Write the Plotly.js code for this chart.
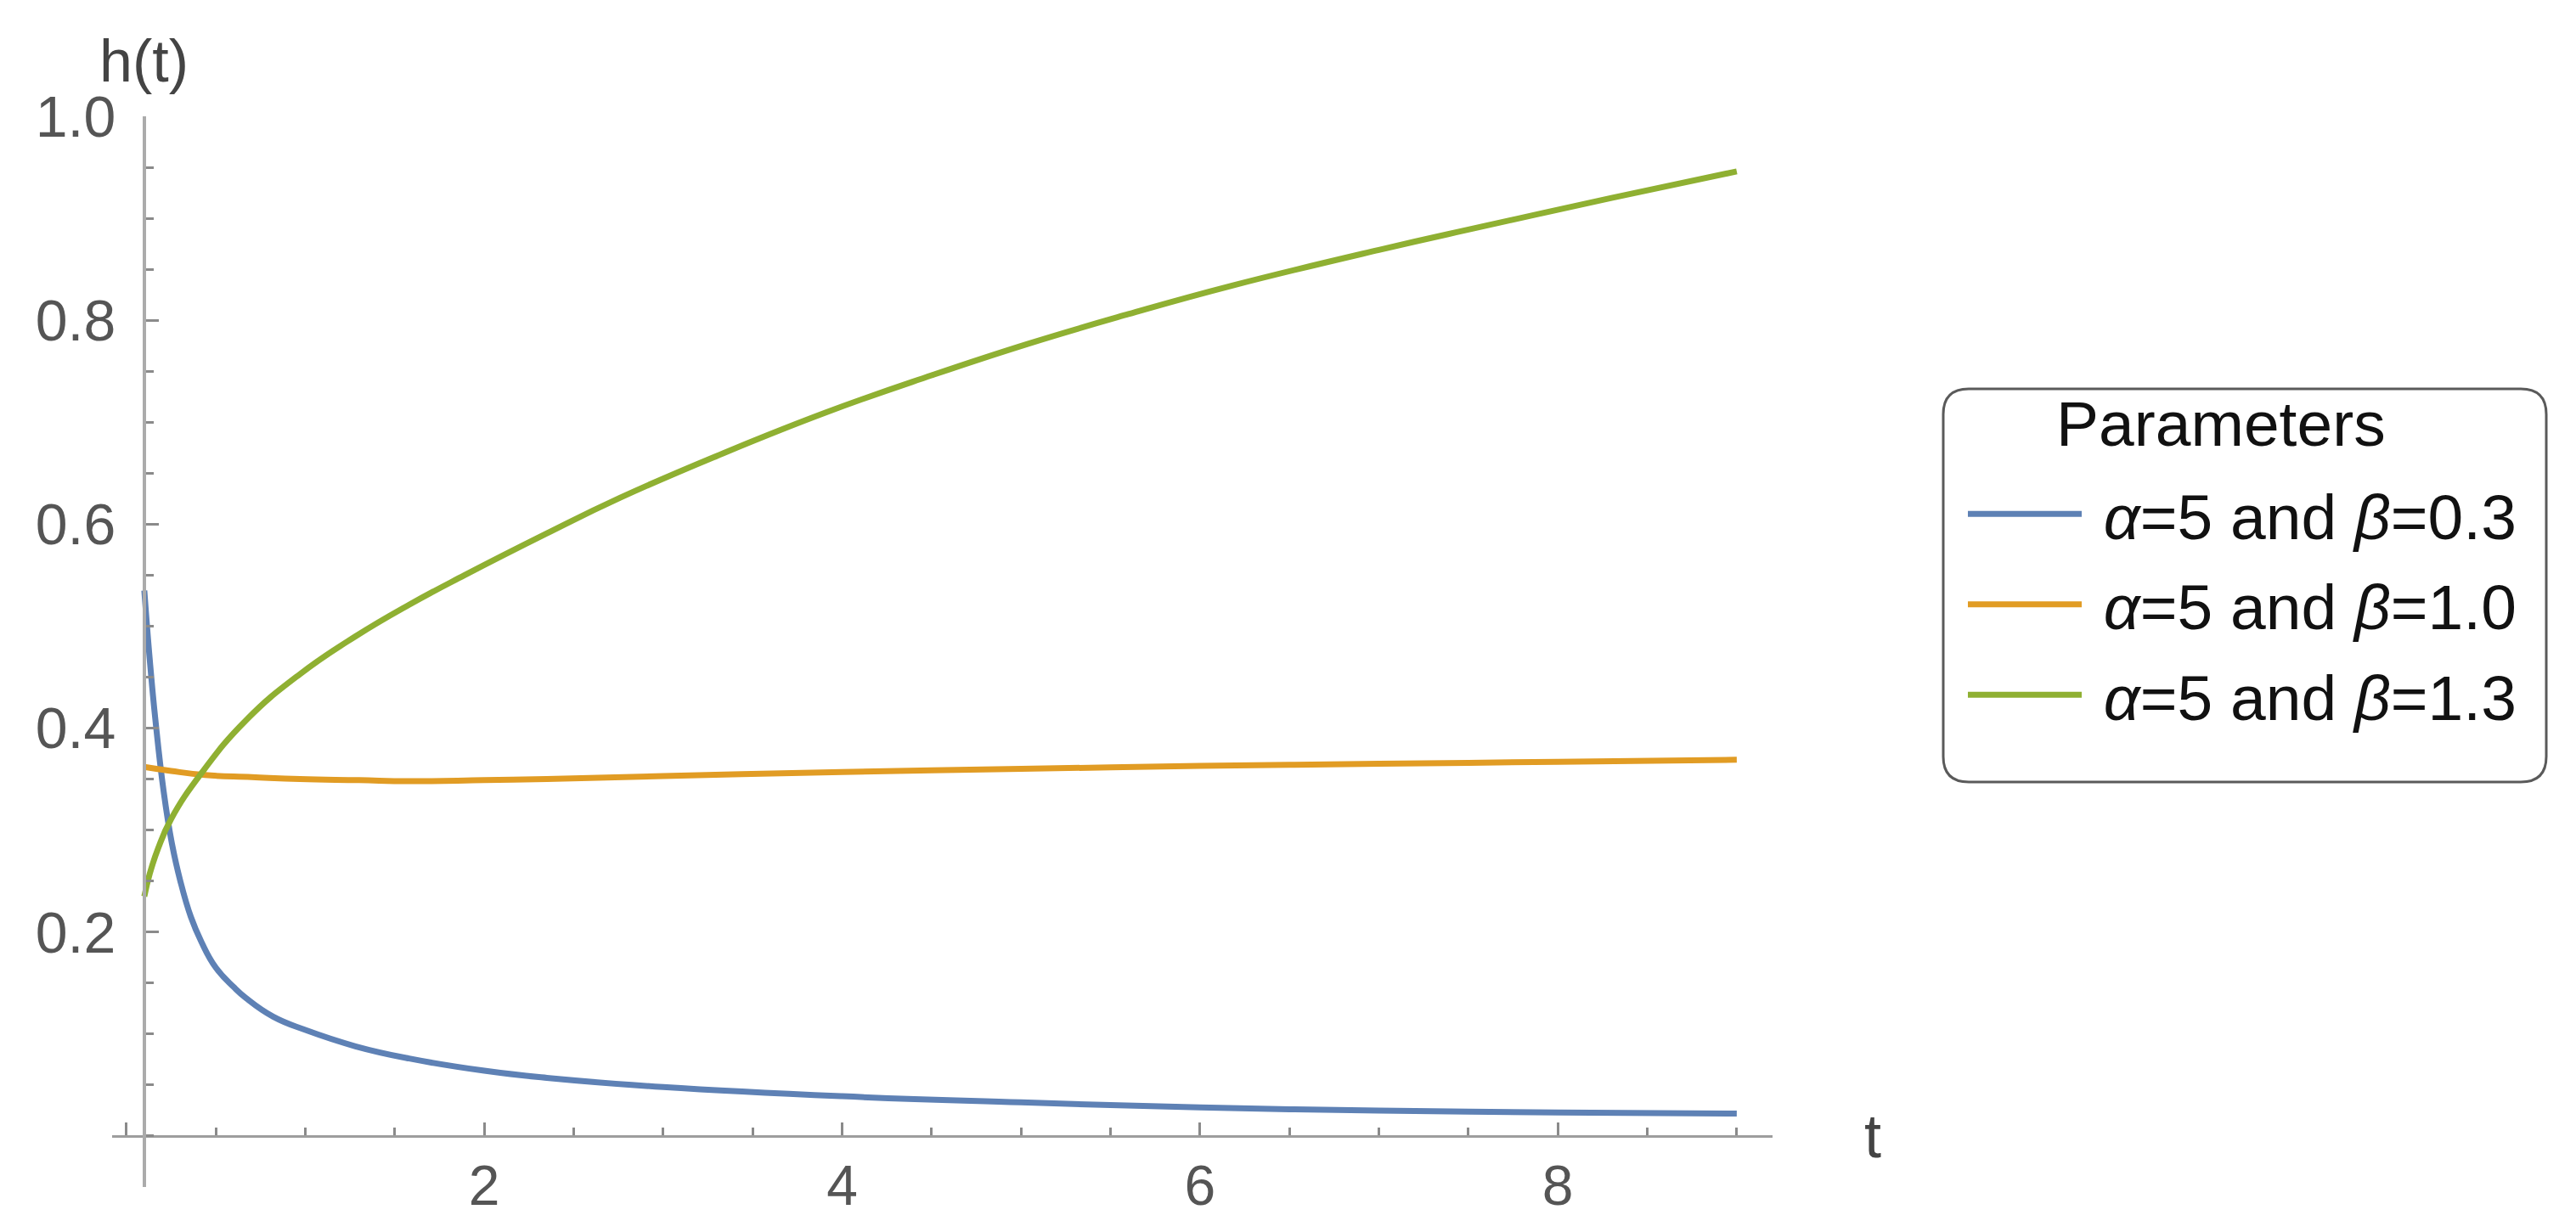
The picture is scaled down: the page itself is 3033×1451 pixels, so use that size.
<!DOCTYPE html>
<html>
<head>
<meta charset="utf-8">
<script src="https://cdn.plot.ly/plotly-3.0.1.min.js"></script>
<style>
  html, body { margin: 0; padding: 0; background: #fff; }
  #chart { width: 3033px; height: 1451px; }
</style>
</head>
<body>
<div id="chart"></div>
<script>
// h(t) curves (t from 0.1 to 9)
const blueT = [0.1, 0.13, 0.162, 0.208, 0.254, 0.3, 0.36, 0.42, 0.5, 0.6, 0.67, 0.82, 1.0, 1.28, 1.58, 2.0, 2.35, 3.0, 4.0, 5.0, 6.0, 7.0, 8.0, 9.0];
const blueH = [0.535, 0.468, 0.408, 0.338, 0.287, 0.251, 0.215, 0.190, 0.165, 0.146, 0.135, 0.117, 0.104, 0.088, 0.076, 0.064, 0.057, 0.048, 0.039, 0.033, 0.028, 0.025, 0.023, 0.022];

const orangeT = [0.1, 0.25, 0.44, 0.7, 0.97, 1.3, 1.58, 2.0, 2.35, 3.0, 4.0, 5.0, 6.0, 7.0, 8.0, 9.0];
const orangeH = [0.362, 0.358, 0.354, 0.352, 0.350, 0.349, 0.348, 0.349, 0.350, 0.353, 0.357, 0.360, 0.363, 0.365, 0.367, 0.369];

const greenT = [0.1, 0.13, 0.177, 0.25, 0.42, 0.67, 0.97, 1.28, 1.58, 1.89, 2.35, 2.76, 3.3, 3.9, 4.5, 5.04, 5.6, 6.18, 7.0, 7.58, 8.3, 9.0];
const greenH = [0.235, 0.257, 0.282, 0.311, 0.356, 0.408, 0.453, 0.490, 0.521, 0.550, 0.591, 0.626, 0.667, 0.709, 0.746, 0.777, 0.806, 0.834, 0.869, 0.892, 0.920, 0.946];

const seriesNames = [
  "<i>α</i>=5 and <i>β</i>=0.3",
  "<i>α</i>=5 and <i>β</i>=1.0",
  "<i>α</i>=5 and <i>β</i>=1.3",
];
const seriesColors = ["#5E81B5", "#E19C24", "#8FB032"];
const legendTitle = "Parameters";

const xTickVals = [0, 2, 4, 6, 8];
const xTickText = ["", "2", "4", "6", "8"];
const yTickVals = [0.2, 0.4, 0.6, 0.8, 1.0];
const yTickText = ["0.2", "0.4", "0.6", "0.8", "1.0"];

// --- geometry (pixels of the 3033x1451 page) ---------------------------------
const W = 3033, H = 1451;
const M = { l: 132, r: 946, t: 137, b: 53 };
const X_RANGE = [-0.08, 9.2];
const Y_RANGE = [-0.05, 1.0];
const AXIS_T = 0.1; // y axis crosses at the start of the plotted range

const FONT = "Liberation Sans, Arial, sans-serif";
const AXIS_GREY = "#9d9d9d", TICK_GREY = "#8a8a8a", LABEL_GREY = "#555555";

const plotW = W - M.l - M.r, plotH = H - M.t - M.b;
const pxToPaperX = (px) => (px - M.l) / plotW;
const pxToPaperY = (py) => (H - M.b - py) / plotH;

// rounded legend frame, as in the Mathematica output
function roundedRect(x0, y0, x1, y1, r) {
  const X = pxToPaperX, Y = pxToPaperY;
  return "M" + X(x0 + r) + "," + Y(y0) +
    " L" + X(x1 - r) + "," + Y(y0) +
    " Q" + X(x1) + "," + Y(y0) + " " + X(x1) + "," + Y(y0 + r) +
    " L" + X(x1) + "," + Y(y1 - r) +
    " Q" + X(x1) + "," + Y(y1) + " " + X(x1 - r) + "," + Y(y1) +
    " L" + X(x0 + r) + "," + Y(y1) +
    " Q" + X(x0) + "," + Y(y1) + " " + X(x0) + "," + Y(y1 - r) +
    " L" + X(x0) + "," + Y(y0 + r) +
    " Q" + X(x0) + "," + Y(y0) + " " + X(x0 + r) + "," + Y(y0) + " Z";
}

const xs = [blueT, orangeT, greenT];
const ys = [blueH, orangeH, greenH];
const traces = xs.map((x, i) => ({
  x: x, y: ys[i],
  type: "scatter", mode: "lines",
  name: "\u00A0" + seriesNames[i],
  legendgroup: "g" + i,
  line: { color: seriesColors[i], width: 7, shape: "spline", smoothing: 1.3 },
  hoverinfo: "skip",
}));

const layout = {
  width: W, height: H,
  paper_bgcolor: "#ffffff", plot_bgcolor: "#ffffff",
  margin: M,
  font: { family: FONT, color: LABEL_GREY },
  xaxis: {
    range: X_RANGE, anchor: "free",
    position: (0 - Y_RANGE[0]) / (Y_RANGE[1] - Y_RANGE[0]),
    showgrid: false, zeroline: false,
    showline: true, linecolor: AXIS_GREY, linewidth: 3,
    tickmode: "array", tickvals: xTickVals, ticktext: xTickText,
    ticks: "inside", ticklen: 15, tickwidth: 3, tickcolor: TICK_GREY,
    minor: { tickmode: "linear", tick0: 0, dtick: 0.5, ticks: "inside", ticklen: 9, tickwidth: 3, tickcolor: TICK_GREY },
    tickfont: { family: FONT, size: 66, color: LABEL_GREY },
    ticklabelstandoff: 0,
  },
  yaxis: {
    range: Y_RANGE, anchor: "free",
    position: (AXIS_T - X_RANGE[0]) / (X_RANGE[1] - X_RANGE[0]),
    showgrid: false, zeroline: false,
    showline: true, linecolor: "#ababab", linewidth: 4,
    tickmode: "array", tickvals: yTickVals, ticktext: yTickText,
    ticks: "inside", ticklen: 15, tickwidth: 3, tickcolor: TICK_GREY,
    minor: { tickmode: "linear", tick0: 0, dtick: 0.05, ticks: "inside", ticklen: 9, tickwidth: 3, tickcolor: TICK_GREY },
    tickfont: { family: FONT, size: 68, color: LABEL_GREY },
    ticklabelstandoff: 18,
  },
  showlegend: true,
  legend: {
    xref: "container", yref: "container",
    x: 2312 / W, xanchor: "left",
    y: 1 - 550 / H, yanchor: "top",
    bgcolor: "rgba(0,0,0,0)", borderwidth: 0,
    itemwidth: 134, tracegroupgap: 6,
    font: { family: FONT, size: 75, color: "#111111" },
  },
  shapes: [{
    type: "path", xref: "paper", yref: "paper",
    path: roundedRect(2288, 458, 2998, 921, 30),
    line: { color: "#5a5a5a", width: 3 },
    fillcolor: "rgba(0,0,0,0)", layer: "below",
  }],
  annotations: [
    {
      text: "h(t)", xref: "x", x: AXIS_T, yref: "paper", y: pxToPaperY(72),
      xanchor: "center", yanchor: "middle", showarrow: false,
      font: { family: FONT, size: 70, color: "#444444" },
    },
    {
      text: "t", xref: "paper", x: pxToPaperX(2205), yref: "y", y: 0,
      xanchor: "center", yanchor: "middle", showarrow: false,
      font: { family: FONT, size: 72, color: "#444444" },
    },
    {
      text: legendTitle, xref: "paper", x: pxToPaperX(2615), yref: "paper", y: pxToPaperY(499),
      xanchor: "center", yanchor: "middle", showarrow: false,
      font: { family: FONT, size: 75, color: "#111111" },
    },
  ],
};

Plotly.newPlot("chart", traces, layout, { displayModeBar: false, staticPlot: true });
</script>
</body>
</html>
